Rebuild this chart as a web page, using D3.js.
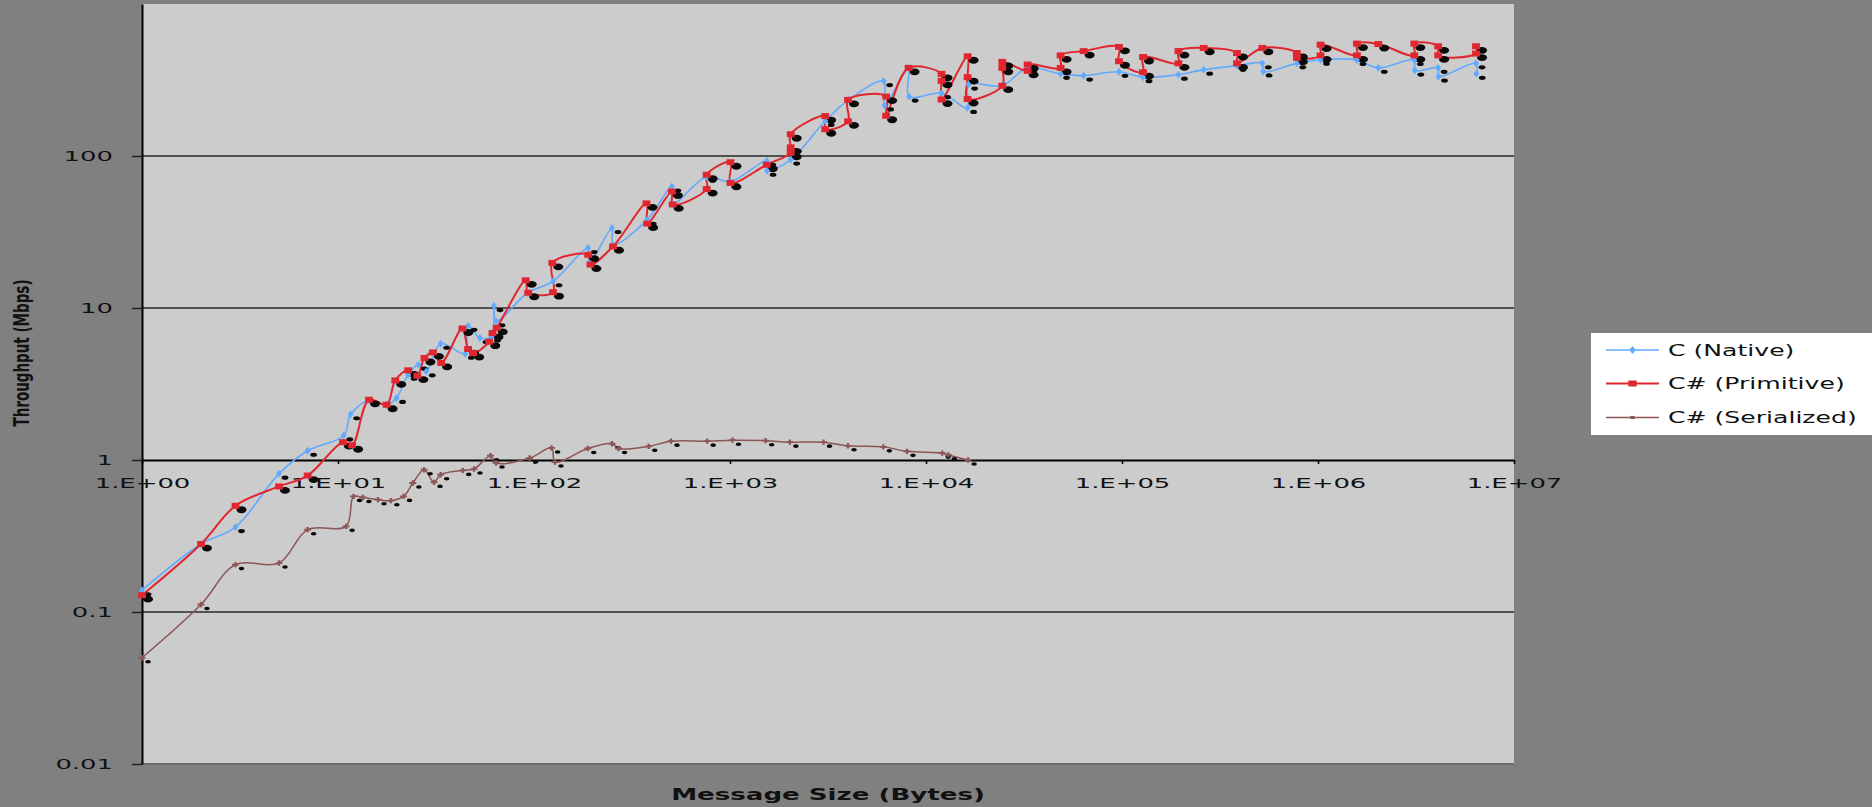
<!DOCTYPE html>
<html>
<head>
<meta charset="utf-8">
<script src="https://cdn.jsdelivr.net/npm/d3@7"></script>
<style>
  html, body { margin: 0; padding: 0; background: #808080; }
  svg { display: block; }
  text { font-family: "DejaVu Sans", Verdana, sans-serif; fill: #111; }
</style>
</head>
<body>
<div id="chart"></div>
<script>
let width = 1872
let height = 807

// message sizes (bytes) and throughput (Mbps)
const nativeSize = [1, 2, 3, 5, 7, 10.7, 11.6, 14.4, 17.7, 19.9, 22.8, 25.7, 28.2, 33.4, 44.6, 46.1, 53, 60.7, 62.5, 64,
  93, 125, 189, 192, 250, 253, 378, 505, 510, 760, 1005, 1540, 1545, 2040, 3060, 4040, 6080, 6150, 8150, 8200,
  12000, 16300, 16500, 24500, 33000, 48600, 63700, 96500, 128000, 194000, 261000, 386000, 520000, 525000,
  780000, 1030000, 1580000, 2030000, 3100000, 3120000, 4100000, 4120000, 6400000, 6420000]
const nativeMbps = [0.139, 0.28, 0.362, 0.813, 1.15, 1.45, 2.0, 2.47, 2.31, 2.56, 3.64, 4.24, 3.83, 5.82, 5.0, 7.63, 6.35, 6.5, 10.3, 8.17,
  12.6, 15.0, 24.8, 19.8, 33.6, 26, 38, 63, 48, 73, 68, 93, 80, 94.7, 170, 235, 311, 215, 380, 246,
  259, 207, 295, 290, 380, 347, 338, 358, 330, 343, 370, 392, 407, 360,
  407, 430, 428, 380, 428, 365, 380, 333, 407, 347]

const primSize = [1, 2, 3, 5, 7, 10.6, 11.8, 14.4, 17.7, 19.6, 22.8, 25.4, 27.6, 30.5, 33.6, 43.1, 46.1, 49, 59.1, 61.4, 64.5,
  90.7, 93.4, 125, 124, 189, 194, 253, 375, 378, 505, 510, 760, 760, 1005, 1005, 1540, 2040, 2040, 2040,
  3060, 3060, 4000, 4000, 6260, 6260, 8150, 12000, 12000, 12000, 16300, 16300, 16300, 24500, 24500, 24500,
  33000, 33000, 48600, 48600, 63700, 96500, 96500, 128000, 128000, 194000, 194000, 261000, 386000, 386000,
  520000, 780000, 780000, 1030000, 1030000, 1580000, 1580000, 2030000, 3100000, 3100000, 4100000, 4100000,
  6400000, 6400000]
const primMbps = [0.129, 0.28, 0.5, 0.67, 0.79, 1.31, 1.25, 2.49, 2.31, 3.34, 3.89, 3.59, 4.69, 5.1, 4.35, 7.33, 5.37, 5.05, 6.0, 6.84, 7.4,
  15.2, 12.6, 12.7, 19.8, 22.4, 19.3, 25.4, 48.8, 35.9, 58.4, 48, 60.6, 75.3, 91, 66.5, 87.6, 105, 114, 139,
  183, 150, 169, 234, 246, 184, 380, 347, 312, 235, 453, 330, 237, 290, 380, 416,
  363, 400, 380, 459, 490, 522, 420, 356, 448, 407, 490, 514, 476, 407,
  514, 476, 442, 459, 540, 459, 549, 545, 459, 549, 527, 459,
  472, 527]

const serSize = [1, 2, 3, 5, 7, 11, 12, 13.4, 16, 18.6, 21.6, 24.1, 27.5, 30.9, 33.4, 43.3, 49.4, 60, 64, 95,
  123, 128, 188, 250, 270, 385, 500, 765, 1030, 1520, 2020, 3000, 4000, 6060, 8000, 12100, 13000, 16400]
const serMbps = [0.05, 0.112, 0.205, 0.21, 0.348, 0.366, 0.576, 0.567, 0.548, 0.54, 0.576, 0.706, 0.863, 0.712, 0.8, 0.854, 0.872, 1.067, 0.956, 1.03,
  1.2, 0.97, 1.19, 1.28, 1.19, 1.23, 1.33, 1.33, 1.35, 1.34, 1.31, 1.31, 1.24, 1.22, 1.14, 1.11, 1.08, 1.0]

const xTicks = [1, 1e1, 1e2, 1e3, 1e4, 1e5, 1e6, 1e7]
const xTickLabels = ['1.E+00', '1.E+01', '1.E+02', '1.E+03', '1.E+04', '1.E+05', '1.E+06', '1.E+07']
const yTicks = [0.01, 0.1, 1, 10, 100]
const yTickLabels = ['0.01', '0.1', '1', '10', '100']

const seriesNames = ['C (Native)', 'C# (Primitive)', 'C# (Serialized)']

let series = [
  { name: seriesNames[0], size: nativeSize, mbps: nativeMbps, color: '#62aaff', lw: 1.6,
    symbol: d3.symbolDiamond, ms: 18, shadow: [3.4, 2.1] },
  { name: seriesNames[1], size: primSize, mbps: primMbps, color: '#e0262e', lw: 2,
    symbol: d3.symbolSquare, ms: 36, shadow: [5, 3.4] },
  { name: seriesNames[2], size: serSize, mbps: serMbps, color: '#8c5656', lw: 1.5,
    symbol: d3.symbolCross, ms: 16, shadow: [2.8, 1.8] }
]

let svg = d3.select('#chart')
            .append('svg')
            .attr('width', width)
            .attr('height', height)

svg.append('rect')
   .attr('width', width)
   .attr('height', height)
   .attr('fill', '#808080')

let x = d3.scaleLog().domain([1, 1e7]).range([142, 1514])
let y = d3.scaleLog().domain([0.01, 1000]).range([764, 4])

// plot area
svg.append('rect')
   .attr('x', x(1))
   .attr('y', y(1000))
   .attr('width', x(1e7) - x(1))
   .attr('height', y(0.01) - y(1000))
   .attr('fill', '#cccccc')

svg.append('line')
   .attr('x1', x(1)).attr('x2', x(1e7))
   .attr('y1', y(0.01)).attr('y2', y(0.01))
   .attr('stroke', '#6b6b6b')
   .attr('stroke-width', 2)

// gridlines
svg.append('g')
   .selectAll('line')
   .data([0.1, 10, 100])
   .enter()
   .append('line')
   .attr('x1', x(1)).attr('x2', x(1e7))
   .attr('y1', d => y(d)).attr('y2', d => y(d))
   .attr('stroke', '#2a2a2a')
   .attr('stroke-width', 1.5)

// y axis
let yAxis = svg.append('g')
   .attr('transform', 'translate(' + x(1) + ',0)')
   .call(d3.axisLeft(y).tickValues(yTicks).tickSize(10).tickSizeOuter(0)
           .tickFormat((d, i) => yTickLabels[i]))
yAxis.select('.domain').attr('stroke', '#000').attr('stroke-width', 2)
yAxis.selectAll('.tick line').attr('stroke', '#222').attr('stroke-width', 1.5)
yAxis.selectAll('.tick text')
     .attr('x', -29 / 1.85)
     .attr('transform', 'scale(1.85,1)')
     .style('font-size', '14px')
     .style('font-family', '"DejaVu Sans", Verdana, sans-serif')
     .attr('fill', '#111')

// x axis crossing at 1 Mbps
let xAxis = svg.append('g')
   .attr('transform', 'translate(0,' + y(1) + ')')
   .call(d3.axisBottom(x).tickValues(xTicks).tickSize(4).tickSizeOuter(0).tickPadding(14)
           .tickFormat((d, i) => xTickLabels[i]))
xAxis.select('.domain').attr('stroke', '#000').attr('stroke-width', 2)
xAxis.selectAll('.tick line').attr('stroke', '#000').attr('stroke-width', 1.5)
xAxis.selectAll('.tick text')
     .attr('transform', 'scale(1.85,1)')
     .style('font-size', '14px')
     .style('font-family', '"DejaVu Sans", Verdana, sans-serif')
     .attr('fill', '#111')

// lines
let line = d3.line()
             .x(d => x(d[0]))
             .y(d => y(d[1]))
             .curve(d3.curveCatmullRom.alpha(0.5))

series.forEach(function (s) {
  s.points = s.size.map((v, i) => [v, s.mbps[i]])
})

svg.append('g')
   .selectAll('path')
   .data(series)
   .enter()
   .append('path')
   .attr('d', d => line(d.points))
   .attr('fill', 'none')
   .attr('stroke', d => d.color)
   .attr('stroke-width', d => d.lw)

// black drop shadows of the markers
series.forEach(function (s) {
  svg.append('g')
     .selectAll('ellipse')
     .data(s.points)
     .enter()
     .append('ellipse')
     .attr('cx', d => x(d[0]) + 6)
     .attr('cy', d => y(d[1]) + 4)
     .attr('rx', s.shadow[0])
     .attr('ry', s.shadow[1])
     .attr('fill', '#0a0a0a')
})

// markers
series.forEach(function (s) {
  let sym = d3.symbol().type(s.symbol).size(s.ms)
  svg.append('g')
     .selectAll('path')
     .data(s.points)
     .enter()
     .append('path')
     .attr('d', sym)
     .attr('transform', d => 'translate(' + x(d[0]) + ',' + y(d[1]) + ') scale(1.3,1)')
     .attr('fill', s.color)
})

// axis titles
svg.append('text')
   .attr('transform', 'translate(828,800) scale(1.74,1)')
   .attr('text-anchor', 'middle')
   .style('font-size', '15px')
   .style('font-weight', 'bold')
   .text('Message Size (Bytes)')

svg.append('text')
   .attr('transform', 'translate(29,353) scale(1.6,1) rotate(-90)')
   .attr('text-anchor', 'middle')
   .style('font-size', '13.5px')
   .style('font-weight', 'bold')
   .text('Throughput (Mbps)')

// legend
let legend = svg.append('g')
legend.append('rect')
      .attr('x', 1591)
      .attr('y', 333)
      .attr('width', width - 1591)
      .attr('height', 102)
      .attr('fill', '#ffffff')

let rows = legend.selectAll('g.row')
                 .data(series)
                 .enter()
                 .append('g')
                 .attr('class', 'row')
                 .attr('transform', (d, i) => 'translate(0,' + [350, 383.5, 417.5][i] + ')')
rows.append('line')
    .attr('x1', 1606).attr('x2', 1659)
    .attr('stroke', d => d.color)
    .attr('stroke-width', d => d.lw)
rows.append('path')
    .attr('d', d => d3.symbol().type(d.name === seriesNames[2] ? d3.symbolSquare : d.symbol).size(d.name === seriesNames[2] ? 10 : d.ms)())
    .attr('transform', 'translate(1632.5,0) scale(1.4,1)')
    .attr('fill', d => d.color)
rows.append('text')
    .attr('transform', 'translate(1668,0) scale(1.57,1)')
    .attr('dy', '0.36em')
    .style('font-size', '16px')
    .text(d => d.name)
</script>
</body>
</html>
